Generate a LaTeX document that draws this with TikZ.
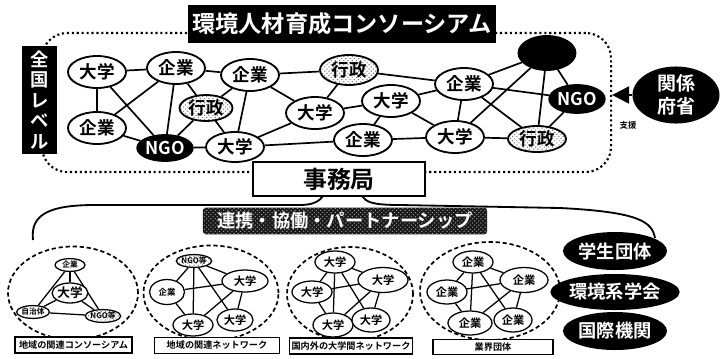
\documentclass[tikz,border=0pt]{standalone}
\usepackage{fontspec}
\setmainfont{Noto Sans CJK JP}[BoldFont={* Bold}]
\usetikzlibrary{shapes.geometric,patterns,backgrounds,arrows.meta}

\tikzset{
  kn/.style={draw, ellipse, line width=1.3pt, fill=white, inner sep=0pt, minimum width=1.45cm, minimum height=0.8cm, font=\bfseries\fontsize{12.5}{12.5}\selectfont},
  gyosei/.style={kn, preaction={fill=white}, pattern=crosshatch dots, pattern color=black!55},
  ngo/.style={kn, fill=black, text=white},
  sn/.style={draw, ellipse, line width=0.9pt, fill=white, inner sep=0pt, minimum width=1cm, minimum height=0.55cm, font=\bfseries\fontsize{8}{8}\selectfont},
  tn/.style={sn, minimum width=0.75cm, minimum height=0.32cm, font=\bfseries\fontsize{5.5}{5.5}\selectfont},
  ln/.style={line width=1.2pt},
  sl/.style={line width=0.9pt},
  area/.style={draw, ellipse, line width=1.2pt, dash pattern=on 3pt off 2pt},
  areaname/.style={draw, line width=1pt, fill=white, inner sep=0pt, minimum height=0.4cm, font=\bfseries\fontsize{6.5}{6.5}\selectfont},
  kikan/.style={ellipse, fill=black, text=white, inner sep=0pt, minimum width=2.6cm, minimum height=0.95cm, font=\bfseries\fontsize{13}{13}\selectfont}
}

\begin{document}
\begin{tikzpicture}[x=0.025cm, y=-0.025cm]
\useasboundingbox (0,0) rectangle (725,358);

% national level
\node[draw, line width=1.5pt, dotted, rounded corners=18pt, minimum width=14.225cm, minimum height=3.475cm](frame) at (326.5,102.5) {};
\node[fill=black, text=white, minimum width=7.625cm, minimum height=0.95cm, font=\bfseries\fontsize{16.5}{16.5}\selectfont](title) at (342,24) {環境人材育成コンソーシアム};
\node[fill=black, text=white, minimum width=0.875cm, minimum height=2.5cm, align=center, font=\bfseries\fontsize{13}{14.5}\selectfont](zenkoku) at (39.5,100) {全\\国\\レ\\ベ\\ル};

\node[kn](D1) at (97,72) {大学};
\node[kn](K1) at (176,68) {企業};
\node[kn](K2) at (250,75) {企業};
\node[gyosei, minimum width=1.325cm, minimum height=0.65cm](G1) at (206,108) {行政};
\node[kn](K3) at (97,128) {企業};
\node[ngo, minimum width=1.375cm, minimum height=0.65cm](N1) at (165,148) {NGO};
\node[kn, minimum height=0.75cm](D2) at (235,147) {大学};
\node[kn](D3) at (315,113) {大学};
\node[gyosei, minimum width=1.45cm, minimum height=0.75cm](G2) at (349,70) {行政};
\node[kn](D4) at (391,101) {大学};
\node[kn](K4) at (363,140) {企業};
\node[kn](K5) at (464,84) {企業};
\node[kn](D5) at (455,137) {大学};
\node[gyosei, minimum height=0.65cm](G3) at (537,139) {行政};
\node[ngo, minimum width=1.325cm, minimum height=0.7cm](N2) at (577,99) {NGO};
\node[ngo, minimum width=1.425cm, minimum height=0.85cm](K6) at (547,53) {};

\begin{pgfonlayer}{background}
\draw[ln] (D1) -- (K1); \draw[ln] (D1) -- (K3); \draw[ln] (D1) -- (N1);
\draw[ln] (K1) -- (K3); \draw[ln] (K1) -- (N1); \draw[ln] (K1) -- (D2);
\draw[ln] (K1) -- (K2); \draw[ln] (N1) -- (G1); \draw[ln] (N1) -- (D2);
\draw[ln] (N1) -- (K3); \draw[ln] (K2) -- (G1); \draw[ln] (K2) -- (D2);
\draw[ln] (K2) -- (D3); \draw[ln] (K2) -- (G2); \draw[ln] (D2) -- (D3);
\draw[ln] (D2) -- (K4); \draw[ln] (D3) -- (G2); \draw[ln] (D3) -- (D4);
\draw[ln] (G2) -- (K5); \draw[ln] (D4) -- (K5); \draw[ln] (D4) -- (D5);
\draw[ln] (D4) -- (K4); \draw[ln] (K4) -- (D5); \draw[ln] (K5) -- (D5);
\draw[ln] (K5) -- (K6); \draw[ln] (K5) -- (N2); \draw[ln] (K5) -- (G3);
\draw[ln] (D5) -- (K6); \draw[ln] (D5) -- (G3); \draw[ln] (K6) -- (G3);
\draw[ln] (K6) -- (N2); \draw[ln] (N2) -- (G3);
\end{pgfonlayer}

% ministries
\node[ellipse, fill=black, text=white, inner sep=0pt, minimum width=2.175cm, minimum height=1.375cm, align=center, font=\bfseries\fontsize{13.5}{16}\selectfont](KF) at (676,95) {関係\\府省};
\draw[line width=1.5pt, -{Triangle[length=12pt, width=12pt]}] (KF.west) -- (KF.west -| frame.east);
\node[font=\bfseries\fontsize{6}{6}\selectfont](shien) at (628,125) {支援};

% secretariat
\node[draw, line width=1.6pt, fill=white, minimum width=4.3cm, minimum height=0.85cm, font=\bfseries\fontsize{17}{17}\selectfont](jimu) at (339,179) {事務局};
\coordinate (bl) at (323,196);
\coordinate (br) at (362,196);
\coordinate (el) at (33,240);
\coordinate (er) at (655,238);
\draw[line width=1.3pt] (el) .. controls (30,214) and (50,205) .. (95,205) -- (300,205) .. controls (315,205) and (320,200) .. (bl);
\draw[line width=1.3pt] (br) .. controls (366,202) and (372,205) .. (400,205) -- (560,208) .. controls (640,212) and (652,222) .. (er);

\node[rounded corners=2pt, fill=black!90, postaction={pattern=crosshatch dots, pattern color=white!60!black}, text=white, minimum width=7.1cm, minimum height=0.6cm, font=\bfseries\fontsize{13}{13}\selectfont](renkei) at (345,221) {連携・協働・パートナーシップ};

% regional consortium
\node[area, minimum width=3.25cm, minimum height=2.325cm](A1) at (73,293) {};
\node[tn](a1k) at (70,265) {企業};
\node[sn, minimum width=0.875cm, minimum height=0.5cm, font=\bfseries\fontsize{9}{9}\selectfont](a1d) at (70,293) {大学};
\node[tn](a1j) at (33,312) {自治体};
\node[tn, minimum width=0.7cm, preaction={fill=white}, pattern=crosshatch dots, pattern color=black!55](a1n) at (103,316) {NGO等};
\begin{pgfonlayer}{background}
\draw[sl] (a1k) -- (a1d); \draw[sl] (a1k) -- (a1j); \draw[sl] (a1k) -- (a1n);
\draw[sl] (a1d) -- (a1j); \draw[sl] (a1d) -- (a1n); \draw[sl] (a1j) -- (a1n);
\end{pgfonlayer}
\node[areaname, minimum width=2.925cm](L1) at (73.5,345) {地域の関連コンソーシアム};

% regional network
\node[area, minimum width=3.375cm, minimum height=2.375cm](A2) at (211,293) {};
\node[tn, minimum width=0.65cm, preaction={fill=white}, pattern=crosshatch dots, pattern color=black!55](a2n) at (194,261) {NGO等};
\node[sn, minimum width=0.875cm, minimum height=0.625cm, font=\bfseries\fontsize{6}{6}\selectfont](a2k) at (167,292) {企業};
\node[sn, minimum width=1.15cm](a2a) at (245,281) {大学};
\node[sn](a2b) at (193,325) {大学};
\node[sn, minimum width=0.9cm](a2c) at (235,320) {大学};
\begin{pgfonlayer}{background}
\draw[sl] (a2n) -- (a2k); \draw[sl] (a2n) -- (a2a); \draw[sl] (a2n) -- (a2b);
\draw[sl] (a2n) -- (a2c); \draw[sl] (a2k) -- (a2a); \draw[sl] (a2k) -- (a2b);
\draw[sl] (a2a) -- (a2b); \draw[sl] (a2a) -- (a2c);
\end{pgfonlayer}
\node[areaname, minimum width=3.125cm](L2) at (217,345.5) {地域の関連ネットワーク};

% university network
\node[area, minimum width=3.15cm, minimum height=2.35cm](A3) at (350,294) {};
\node[sn](a3t) at (335,262) {大学};
\node[sn](a3l) at (312,292) {大学};
\node[sn, minimum width=1.25cm, minimum height=0.625cm](a3a) at (383,280) {大学};
\node[sn, minimum height=0.6cm](a3b) at (333,325) {大学};
\node[sn, minimum width=0.95cm, minimum height=0.6cm](a3c) at (371,320) {大学};
\begin{pgfonlayer}{background}
\draw[sl] (a3t) -- (a3l); \draw[sl] (a3t) -- (a3a); \draw[sl] (a3t) -- (a3b);
\draw[sl] (a3t) -- (a3c); \draw[sl] (a3l) -- (a3a); \draw[sl] (a3l) -- (a3b);
\draw[sl] (a3a) -- (a3b); \draw[sl] (a3a) -- (a3c);
\end{pgfonlayer}
\node[areaname, minimum width=3.075cm](L3) at (351,346) {国内外の大学間ネットワーク};

% industry groups
\node[area, minimum width=3.5cm, minimum height=2.45cm](A4) at (490,291) {};
\node[sn](a4t) at (473,262) {企業};
\node[sn, minimum height=0.6cm](a4l) at (447,292) {企業};
\node[sn, minimum width=1.2cm, minimum height=0.625cm](a4a) at (524,280) {企業};
\node[sn, minimum width=1.1cm, minimum height=0.6cm](a4b) at (470,323) {企業};
\node[sn, minimum width=0.95cm, minimum height=0.6cm](a4c) at (513,320) {企業};
\begin{pgfonlayer}{background}
\draw[sl] (a4t) -- (a4l); \draw[sl] (a4t) -- (a4a); \draw[sl] (a4t) -- (a4b);
\draw[sl] (a4t) -- (a4c); \draw[sl] (a4l) -- (a4a); \draw[sl] (a4l) -- (a4b);
\draw[sl] (a4a) -- (a4b); \draw[sl] (a4a) -- (a4c);
\end{pgfonlayer}
\node[areaname, minimum width=3cm, minimum height=0.375cm](L4) at (493,347) {業界団体};

% other bodies
\node[kikan](S1) at (615,251) {学生団体};
\node[kikan, minimum height=0.9cm](S2) at (615,292) {環境系学会};
\node[kikan](S3) at (615,331) {国際機関};

\end{tikzpicture}
\end{document}
